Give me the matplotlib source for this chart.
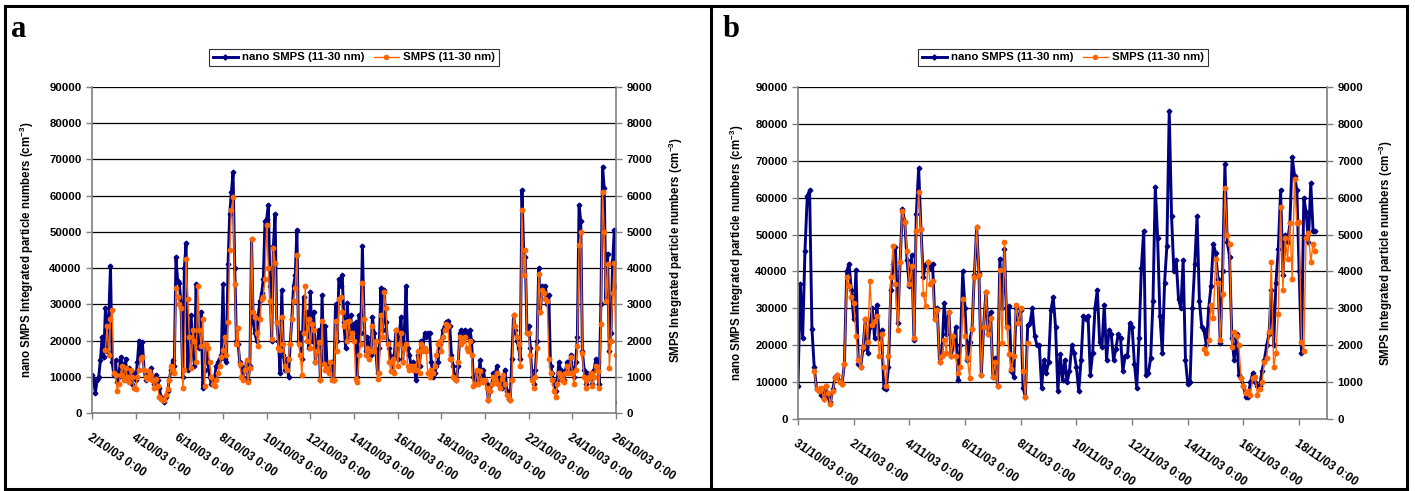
import numpy as np
import pandas as pd
import matplotlib
matplotlib.use("Agg")
import matplotlib.pyplot as plt
import matplotlib.dates as mdates
from matplotlib.lines import Line2D

plt.rcParams['font.family'] = ['Liberation Sans', 'DejaVu Sans']
plt.rcParams['font.weight'] = 'bold'
plt.rcParams['axes.labelweight'] = 'bold'
plt.rcParams['mathtext.default'] = 'regular'

nan = np.nan

# ---- panel a: 2/10/03 - 26/10/03, one reading every 24/13 h ----
nano_a = [
    10500, 9000, 5500, 9000, 10000, 14500, 21000, 15500, 29000, 17000,
    27000, 40500, 14000, 10500, 14500, 8500, 10000, 15500, 13500, 10000,
    15000, 9000, 12500, 9500, 8000, 11000, 9000, 14000, 20000, 16000,
    19500, 12000, 9000, 10500, 11500, 12500, 10000, 8000, 10500, 9000,
    7000, 4500, 3500, 3000, 4500, 6000, 9000, 12000, 14500, 13000,
    43000, 36500, 36000, 30000, 10000, 40000, 47000, 12000, 20000, 27000,
    18000, 13000, 35500, 19000, 18000, 28000, 7000, 12000, 19000, 14000,
    10000, 8000, 8500, 10000, 13000, 14000, 15000, 16000, 35500, 15000,
    14000, 41000, 55000, 61000, 66500, 40000, 20000, 19000, 14000, 13000,
    10000, 12000, 14000, 9000, 13000, 48000, 25000, 22000, 20000, 27000,
    31000, 33000, 37000, 53000, 53500, 57500, 35000, 20000, 46000, 55000,
    25000, 20000, 11000, 34000, 16000, 12000, 15000, 10000, 19000, 26000,
    35000, 38000, 50500, 19500, 22000, 15000, 32000, 23000, 28000, 18000,
    33500, 20000, 28000, 14000, 18000, 23000, 9000, 32500, 14000, 24000,
    12000, 13000, 11000, 14000, 9000, 30000, 20000, 37000, 35000, 38000,
    25000, 18000, 30500, 21000, 27000, 22000, 24500, 25000, 10000, 27000,
    22000,
    46000, 26000, 17000, 21000, 19000, 16000, 26500, 22000, 17000, 11000,
    18000, 34500, 23000, 34000, 25000, 20000, 18000, 15000, 11500, 16000,
    23000, 15000, 22000, 26500, 14000, 23000, 35000, 18000, 16000, 13000,
    14000, 12000, 9000, 16000, 13000, 20000, 18000, 22000, 21000, 22000,
    22000, 14000, 10000, 11000, 13000, 14000, 19000, 20000, 23000, 24000,
    25000, 25500, 24000, 16000, 13000, 10000, 9000, 13000, 22000, 23000,
    21000, 23000, 22000, 21000, 23000, 20000, 10000, 8000, 11000, 9000,
    14500, 10000, 12000, 9000, 8000, 3500, 6000, 8000, 11000, 10500,
    13000, 10000, 9000, 7000, 10000, 12000, 6000, 4000, 3500, 15000,
    27000, 23000, 20000, 18000, 15000, 61500, 45000, 43000, 22000, 24000,
    18000, 10000, 8000, 12000, 20000, 40000, 28000, 35000, 33000, 35000,
    30000, 32500, 13000, 11000, 8000, 6000, 9000, 14000, 12000, 10000,
    9000, 12000, 14000, 12000, 16000, 12000, 10000, 14000, 21000, 57500,
    53000, 17000, 12000, 8000, 11000, 10000, 11000, 8000, 12000, 15000,
    14000, 8000, 30000, 68000, 62000, 31000, 44000, 17000, 22000, 42000,
    50500, 35000, 3000,
]
smps_a = [
    nan, nan, nan, nan, nan, nan, nan, nan,
    1750, 2400, 1600, 2600, 2850, 1100, 1050, 600, 800, 1050,
    1300, 900, 1250, 1000, 850, 1200, 1000, 700, 650, 1000,
    1200, 1500, 1550, 1200, 1000, 950, 1150, 1050, 900, 700,
    950, 750, 450, 400, 350, 350, 500, 650, 900, 1300,
    1200, 1100, 3450, 3200, 3000, 2900, 700, 1200, 4250, 3150,
    2100, 1250, 2300, 2000, 1400, 3500, 2300, 1850, 2600, 750,
    1900, 1800, 1400, 1000, 800, 750, 900, 1100, 1300, 1550,
    1750, 2100, 1600, 2500, 4500, 5600, 5950, 3550, 1900, 2350,
    1350, 1000, 900, 1200, 1450, 850, 1250, 4800, 2800, 2650,
    2200, 1850, 2600, 3150, 3200, 3700, 5200, 4000, 3100, 2050,
    4550, 4150, 2500, 1800, 1750, 2650, 1900, 1300, 1200, 1500,
    1900, 2600, 3100, 3450, 4350, 1900, 1600, 1050, 2200, 3500,
    2000, 2600, 1800, 2450, 2300, 1400, 1700, 1950, 900, 2550,
    1350, 1200, 1250, 1100, 1400, 900, 900, 2550, 1700, 3150,
    3200, 2800, 2400, 2500, 2000, 2550, 2100, 2200, 2000, 950,
    850, 1600, 1900,
    3600, 2600, 1600, 1800, 1500, 1700, 2400, 1700, 2000, 950,
    1100, 2700, 2100, 3350, 2900, 1900, 1400, 1150, 1500, 1100,
    2300, 1300, 1900, 2200, 1400, 1800, 1900, 1300, 1200, 1300,
    1200, 1300, 1200, 1700, 1100, 1900, 1700, 1800, 1700, 1100,
    1000, 1200, 1100, 1300, 1600, 1900, 2000, 1700, 2100, 2300,
    2450, 2400, 1500, 1500, 1000, 950, 900, 1400, 2100, 1900,
    2000, 2100, 1800, 1700, 2000, 1600, 750, 800, 1200, 800,
    1150, 900, 850, 900, 700, 350, 600, 800, 1000, 900,
    1100, 800, 700, 950, 1050, 800, 500, 400, 350, 900,
    2700, 2400, 2100, 1900, 1300, 5600, 3800, 4500, 2200, 2200,
    1600, 900, 700, 1000, 1800, 3850, 2800, 3400, 3300, 3150,
    3100, 1500, 1100, 900, 600, 450, 800, 1100, 1050, 900,
    850, 1100, 1300, 1100, 1550, 1100, 800, 1200, 1850, 4650,
    5000, 1650, 1000, 700, 900, 1000, 1100, 750, 1000, 1300,
    1150, 700, 2450, 6100, 5000, 3100, 4100, 1250, 2000, 3300,
    4150, 1600, nan,
]

# ---- panel b: 31/10/03 - 19/11/03, one reading every 2 h ----
nano_b = [
    9000, 36500, 22000, 45500, 60500, 62000, 24500, 14000, 8000, 8000,
    6500, 5500, 9000, 6000, 4500, 8000, 11500, 12000, 10000, 9500,
    15000, 40000, 42000, 35000, 27000, 40500, 15000, 14000, 19000, 27000,
    18000, 25000, 30000, 22000, 31000, 22000, 24000, 8500, 8000, 14000,
    35000, 42000, 46500, 26000, 42500, 57000, 53500, 43000, 36000, 44500,
    21500, 55500, 68000, 51500, 38500, 42000, 42500, 41000, 42000, 27000,
    30000, 15500, 17000, 31500, 23000, 29000, 17000, 20000, 25000, 10500,
    20000, 40000, 30000, 16000, 21000, 24500, 39000, 52000, 39500, 12000,
    25000, 34500, 23000, 29000, 11500, 16500, 9000, 43500, 30000, 46000,
    25000, 30500, 13000, 11500, 30000, 26500, 29500, 8500, 6000, 25500,
    26000, 30000, 22500, 20000, 20000, 8500, 16000, 12500, 15500, 29500,
    33000, 25000, 7500, 17500, 10500, 16000, 10000,
    13000, 20000, 18000, 14000, 7500, 16000, 28000, 27000, 28000, 12000,
    18000, 30000, 35000, 21000, 19500, 31000, 16000, 24000, 23000, 16000,
    19000, 23000, 22000, 13000, 17000, 17000, 26000, 25000, 15000, 8500,
    22000, 41000, 51000, 12000, 12500, 16500, 32000, 63000, 49000, 28000,
    18000, 37000, 47000, 83500, 55000, 40000, 43000, 32500, 30000, 43000,
    16000, 9500, 10000, 30000, 42000, 55000, 32000, 25000, 24000, 20000,
    30000, 36000, 47500, 45000, 38000, 20500, 40000, 69000, 48000, 44000,
    22000, 16000, 23000, 12000, 11000, 9000, 6000, 6000, 10000, 12500,
    10000, 9000, 9000, 13000, 16000, 20000, 23000, 35000, 20000, 37000,
    46000, 62000, 39000, 50000, 48000, 53000, 71000, 66000, 62000, 40000,
    18000, 60000, 56000, 48000, 64000, 51000, 51000,
]
smps_b = [
    nan, nan, nan, nan, nan, nan, nan, 1300, 800, 750,
    850, 550, 900, 700, 420, 750, 1100, 1200, 1000, 950,
    1500, 3850, 3600, 3300, 3150, 2250, 1600, 1400, 1950, 2700,
    2100, 3750, 2550, 2650, 2800, 1700, 2300, 1400, 900, 1700,
    3850, 4700, 3650, 2400, 4250, 5650, 5350, 4550, 3650, 4150,
    2200, 5100, 6150, 5150, 3400, 3050, 4250, 3650, 3750, 2700,
    2950, 1550, 1700, 2150, 1800, 2900, 1700, 2250, 1700, 1250,
    1400, 3250, 2250, 1650, 1100, 2450, 3850, 5200, 3900, 1200,
    2500, 3450, 2300, 2750, 1150, 1550, 900, 4050, 2050, 4800,
    2500, 1750, 1350, 1700, 3100, 2600, 3000, 1300, 600, 2050,
    nan, nan, nan, nan, nan, nan, nan, nan, nan, nan,
    nan, nan, nan, nan, nan, nan, nan,
] + [nan] * 58 + [
    1900, 1800, 2150, 3100, 2750, 4350, 3700, 2150, 3400, 6250,
    5000, 4750, 1950, 2350, 2250, 2000, 1100, 900, 700, 750,
    650, 1100, 1150, 650, 800, 1000, 1550, 1650, 2350, 4250,
    1400, 1800, 2850, 5750, 3500, 4900, 4350, 5300, 3800, 6500,
    5300, 5350, 2100, 1850, 4900, 5050, 4250, 4750, 4550,
]

start_a, end_a = np.datetime64('2003-10-02T00:00'), np.datetime64('2003-10-26T00:00')
start_b, end_b = np.datetime64('2003-10-31T00:00'), np.datetime64('2003-11-19T00:00')
t_a = start_a + (np.arange(len(nano_a)) * 86400 // 13).astype('timedelta64[s]')
t_b = start_b + (np.arange(len(nano_b)) * 7200).astype('timedelta64[s]')
ticks_a = pd.date_range('2003-10-02', '2003-10-26', freq='2D')
ticks_b = pd.date_range('2003-10-31', '2003-11-18', freq='2D')

NAVY = '#000080'
ORANGE = '#FF6600'
GREY = '#808080'

fig = plt.figure(figsize=(14.15, 4.91), dpi=100)
W, H = 1415, 491


def panel(rect, lab_x, t, nano, smps, xlim, ticks, ylab_l, ylab_r):
    l, t_px, r, b_px = rect
    ax = fig.add_axes([l / W, 1 - b_px / H, (r - l) / W, (b_px - t_px) / H])
    ax2 = ax.twinx()
    ax.plot(t, nano, color=NAVY, lw=2.1, marker='D', ms=2.4, mec=NAVY, mfc=NAVY)
    ax2.plot(t, smps, color=ORANGE, lw=1.0, marker='o', ms=4.2, mew=0, mfc=ORANGE)
    ax.set_ylim(0, 90000)
    ax2.set_ylim(0, 9000)
    ax.set_yticks(np.arange(0, 90001, 10000))
    ax2.set_yticks(np.arange(0, 9001, 1000))
    ax.set_xlim(xlim)
    ax.set_xticks(ticks)
    ax.xaxis.set_major_formatter(mdates.DateFormatter('%-d/%m/%y %-H:%M'))
    ax.yaxis.grid(True, color='black', lw=0.9)
    for s in ['top', 'right']:
        ax.spines[s].set_visible(False)
    for s in ['top', 'left', 'bottom']:
        ax2.spines[s].set_visible(False)
    for s in [ax.spines['left'], ax.spines['bottom'], ax2.spines['right']]:
        s.set_color(GREY)
        s.set_linewidth(1.2)
    ax.tick_params(axis='both', direction='out', length=4, color=GREY,
                   labelsize=8.2, width=1)
    ax.tick_params(axis='x', pad=9)
    ax2.tick_params(axis='y', direction='out', length=4, color=GREY,
                    labelsize=8.2, width=1)
    for lbl in ax.get_xticklabels():
        lbl.set_rotation(-34)
        lbl.set_ha('left')
        lbl.set_va('top')
        lbl.set_rotation_mode('anchor')
        lbl.set_fontsize(8.6)
    ax.set_ylabel(ylab_l, fontsize=8.3)
    ax2.set_ylabel(ylab_r, fontsize=8.3, rotation=90)
    w = r - l
    ax.yaxis.set_label_coords((lab_x[0] - l) / w, 0.5)
    ax2.yaxis.set_label_coords((lab_x[1] - l) / w, 0.5)
    return ax


lab_l = 'nano SMPS Integrated particle numbers (cm$^{-3}$)'
lab_r = 'SMPS Integrated particle numbers (cm$^{-3}$)'
panel((92, 87, 616, 413), (36, 667), t_a, nano_a, smps_a, (start_a, end_a), ticks_a, lab_l, lab_r)
panel((798, 87, 1327, 419), (746, 1377), t_b, nano_b, smps_b, (start_b, end_b), ticks_b, lab_l, lab_r)

handles = [
    Line2D([], [], color=NAVY, lw=2.1, marker='D', ms=2.6),
    Line2D([], [], color=ORANGE, lw=1.0, marker='o', ms=4.0, mew=0),
]
names = ['nano SMPS (11-30 nm)', 'SMPS (11-30 nm)']
for cx in (354, 1063):
    leg = fig.legend(handles, names, loc='center', bbox_to_anchor=(cx / W, 1 - 57.5 / H),
                     ncol=2, fontsize=8.2, frameon=True, fancybox=False,
                     handlelength=2.2, handletextpad=0.4, columnspacing=0.8,
                     borderpad=0.3, borderaxespad=0)
    leg.get_frame().set_edgecolor('black')
    leg.get_frame().set_linewidth(0.8)

# panel letters
for x, s in ((11, 'a'), (723, 'b')):
    fig.text(x / W, 1 - 37 / H, s, family='Liberation Serif', weight='bold',
             fontsize=22, va='baseline', ha='left')

# panel frames
kw = dict(color='black', lw=2.2, transform=fig.transFigure)
for xs, ys in [((5, 1407), (6, 6)), ((5, 1407), (489, 489)),
               ((5, 5), (6, 489)), ((711, 711), (6, 489)), ((1407, 1407), (6, 489))]:
    fig.add_artist(Line2D([xs[0] / W, xs[1] / W], [1 - ys[0] / H, 1 - ys[1] / H], **kw))

fig.savefig('out.png', dpi=100)
